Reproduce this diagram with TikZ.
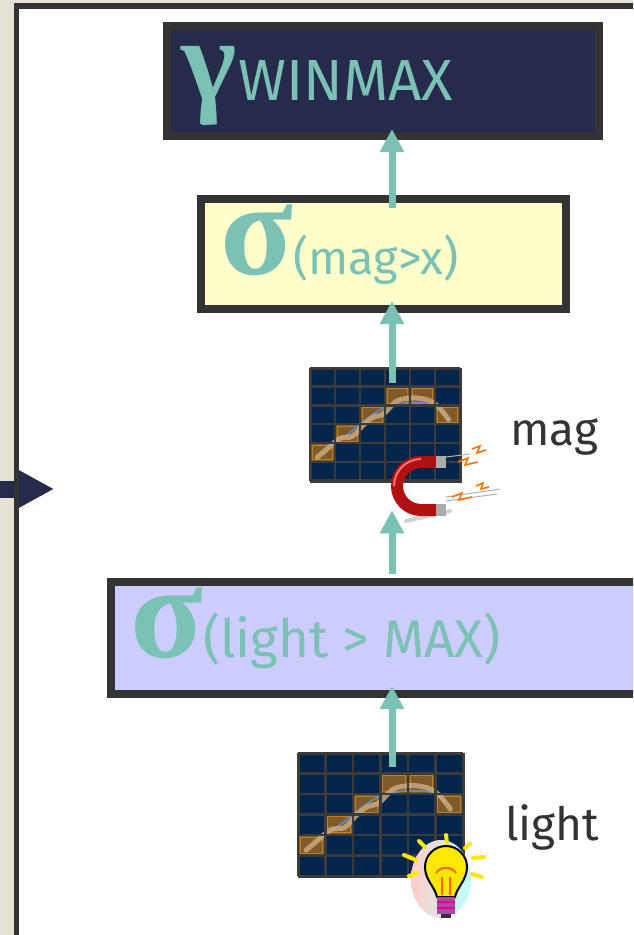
\documentclass[tikz,border=0pt]{standalone}
\usepackage{fontspec}
\setmainfont{Fira Sans}
\newfontfamily\greekfont{Liberation Serif}
\usetikzlibrary{arrows.meta,positioning}

\definecolor{opteal}{HTML}{7BC1B4}
\definecolor{opnavy}{HTML}{262B4C}
\definecolor{opyellow}{HTML}{FFFFCC}
\definecolor{oplilac}{HTML}{CCCCFF}
\definecolor{opborder}{HTML}{333333}
\definecolor{cellnavy}{HTML}{03244B}
\definecolor{cellline}{HTML}{3B3B3B}
\definecolor{cellhit}{HTML}{7E5B29}
\definecolor{cellrim}{HTML}{C47E22}
\definecolor{tracetan}{HTML}{C9A97E}
\definecolor{traceblue}{HTML}{5C90D2}
\definecolor{slidebg}{HTML}{E4E3D5}
\definecolor{magred}{HTML}{B01212}

\tikzset{
  op box/.style={draw=opborder,line width=8pt,inner sep=0pt},
  op text/.style={anchor=base west,inner sep=0pt,text=opteal},
  op edge/.style={-{Triangle[length=23pt,width=23pt]},opteal,line width=7pt},
  data grid/.style={draw=cellline,fill=cellnavy,line width=2.5pt,inner sep=0pt},
  grid line/.style={cellline,line width=2.5pt},
  grid hit/.style={fill=cellhit},
  grid rim/.style={cellrim,line width=0.8pt},
  grid path/.style={tracetan,line width=5pt,line cap=round,opacity=0.85},
  grid trace/.style={traceblue,line width=1.5pt},
  attr label/.style={inner sep=0pt,text=opborder,font=\fontsize{46}{46}\selectfont},
  magnet arm/.style={magred,line width=12pt},
  spark/.style={orange!90!red,line width=1.6pt},
  ray/.style={yellow!90!orange,line width=4pt,line cap=round},
}

% 6x6 relation grid drawn over a data grid node: #1 node, #2 cell width, #3 cell height
\newcommand\cellgrid[3]{%
  \begin{scope}[shift={(#1.north west)},x=#2,y=-#3]
    \foreach \c/\r in {3/1,4/1,2/2,5/2,1/3,0/4} {
      \fill[grid hit] (\c,\r) rectangle ++(1,1);
      \draw[grid rim] (\c+0.09,\r+0.11) rectangle (\c+0.91,\r+0.89);
    }
    \draw[grid trace] plot[smooth] coordinates {(0.7,4.25) (1.5,3.55) (2.2,2.8) (3,2.1) (4,1.85) (4.9,1.95) (5.45,2.55)};
    \draw[grid path] plot[smooth] coordinates {(0.3,4.75) (0.75,4.25) (1.2,3.75) (1.7,3.65) (2.1,3.1) (2.5,2.65) (2.95,2.45) (3.5,1.75) (4.2,1.6) (4.8,1.75) (5.2,2.15) (5.55,2.75)};
    \foreach \i in {0,...,6} {
      \draw[grid line] (\i,0) -- (\i,6);
      \draw[grid line] (0,\i) -- (6,\i);
    }
  \end{scope}}

\begin{document}
\begin{tikzpicture}[x=1pt,y=-1pt]
  \clip (0,0) rectangle (633,935);
  % slide background and panel
  \fill[slidebg] (0,0) rectangle (633,935);
  \fill[white] (16.5,6) rectangle (660,960);
  \coordinate (feedin) at (-5,489);
  \coordinate (feedtip) at (54,489);
  \draw[-{Triangle[length=36pt,width=36pt]},opnavy,line width=17pt] (feedin) -- (feedtip);
  \draw[opborder,line width=5.5pt] (16.5,960) |- (660,6);

  % operator boxes
  \node[op box,fill=opnavy,minimum width=432pt,minimum height=110pt] (project) at (383,81) {};
  \node[op box,fill=opyellow,minimum width=365pt,minimum height=110pt] (selmag) at (383.5,254) {};
  \node[op box,fill=oplilac,minimum width=545pt,minimum height=112pt] (sellight) at (383.5,638) {};
  \node[op text] (projtext) at (181,100)
    {{\greekfont\bfseries\fontsize{118}{118}\selectfont γ}\hspace{2pt}\fontsize{58}{58}\selectfont WINMAX};
  \node[op text] (magtext) at (220,274)
    {{\greekfont\bfseries\fontsize{134}{134}\selectfont σ}\fontsize{47}{47}\selectfont(mag>x)};
  \node[op text] (lighttext) at (130,657)
    {{\greekfont\bfseries\fontsize{134}{134}\selectfont σ}\fontsize{53}{53}\selectfont(light > MAX)};

  % relations
  \node[data grid,minimum width=150pt,minimum height=113pt] (magdata) at (386,425.5) {};
  \cellgrid{magdata}{25pt}{18.83pt}
  \node[data grid,minimum width=165pt,minimum height=123pt] (lightdata) at (381.5,815.5) {};
  \cellgrid{lightdata}{27.5pt}{20.5pt}
  \node[attr label,right=48pt of magdata,yshift=-11pt] (magname) {mag};
  \node[attr label,right=40pt of lightdata,yshift=-12pt] (lightname) {light};

  % magnet
  \draw[gray!35,line width=4pt,line cap=round] (406,521) -- (450,511);
  \draw[gray!60,line width=1pt] (446,497) -- (500,489) (446,501) -- (497,494) (446,457) -- (470,454);
  \draw[magnet arm] (436,462) -- (421,462) arc[start angle=270,end angle=90,radius=24] -- (436,510);
  \draw[red!55,line width=2pt] (421,459) arc[start angle=270,end angle=180,radius=27];
  \draw[gray!65,line width=12pt] (436,462) -- (446,462) (436,510) -- (446,510);
  \draw[spark] (472,449) -- (480,446) -- (477,453) -- (486,450);
  \draw[spark] (458,462) -- (468,458) -- (465,465) -- (478,462);
  \draw[spark] (476,486) -- (483,483) -- (481,489) -- (489,487);
  \draw[spark] (452,497) -- (462,493) -- (459,500) -- (472,497);

  % bulb
  \shade[left color=pink!80,right color=cyan!25] (441,879) ellipse[x radius=30,y radius=39];
  \draw[ray] (404,855) -- (416,860) (419,841) -- (425,847) (446,835) -- (447,843)
    (465,848) -- (470,844) (473,858) -- (484,857) (472,874) -- (482,877) (409,876) -- (417,873);
  \draw[fill=yellow!90!orange,line width=2pt] (437,897) .. controls (435,887) and (425,880) .. (425,867)
    arc[start angle=180,end angle=360,radius=21] .. controls (467,880) and (457,887) .. (455,897) -- cycle;
  \draw[orange!80!red,line width=2pt] (442,895) -- (442,877) (450,895) -- (450,877)
    (436,873) .. controls (441,866) and (451,866) .. (456,873);
  \fill[violet!70] (437,897) rectangle (455,914);
  \draw[magenta,line width=1.5pt] (437,902) -- (455,902) (437,908) -- (455,908);
  \fill[black!80] (441,914) rectangle (451,918);

  % data flow
  \draw[op edge] ([xshift=8.5pt,yshift=-13pt]selmag.north) -- ([xshift=9pt,yshift=11pt]project.south);
  \draw[op edge] ([xshift=6pt,yshift=-15pt]magdata.north) -- ([xshift=8.5pt,yshift=12pt]selmag.south);
  \draw[op edge] ([xshift=8.5pt,yshift=4pt]sellight.north) -- ([xshift=6pt,yshift=-27pt]magdata.south);
  \draw[op edge] ([xshift=10.5pt,yshift=-14pt]lightdata.north) -- ([xshift=8.5pt,yshift=12pt]sellight.south);
\end{tikzpicture}
\end{document}
